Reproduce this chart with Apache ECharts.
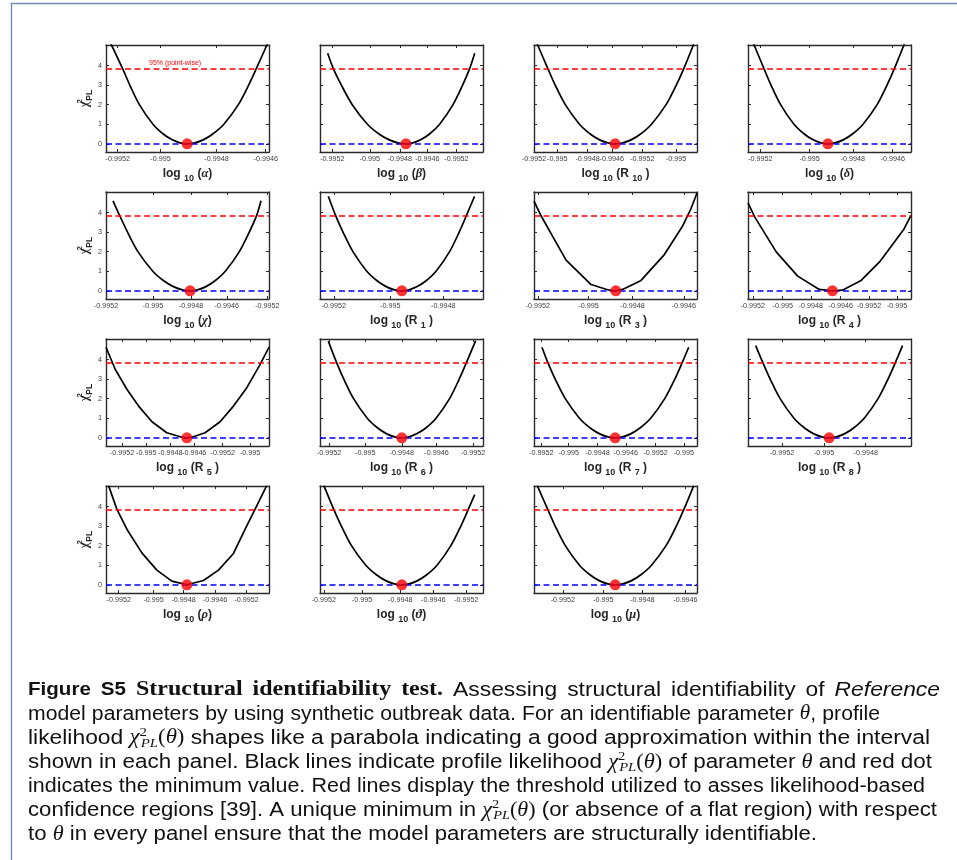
<!DOCTYPE html>
<html>
<head>
<meta charset="utf-8">
<title>Figure S5 – Structural identifiability test</title>
<script src="https://cdn.jsdelivr.net/npm/echarts@6/dist/echarts.min.js"></script>
<style>
  html, body { margin: 0; padding: 0; background: #ffffff; }
  #chart { width: 957px; height: 860px; }
</style>
</head>
<body>
<div id="chart"></div>
<script>
// ---- shared axis values ----
const THRESHOLD_95 = 3.84;          // chi-square 95% point-wise threshold (1 d.o.f.)
const Y_MIN = -0.42;
const Y_MAX = 5.05;
const yTicks = [0, 1, 2, 3, 4];

// ---- profile likelihood curves: [position along axis (0-100), chi2_PL] ----
const ticksAlpha = [7.2, 33.4, 67.8, 98.0];
const labelsAlpha = ['-0.9952', '-0.995', '-0.9948', '-0.9946'];
const profileAlpha = [[3.1, 5.1], [10.2, 3.84], [14.6, 3.0], [20.5, 2.0], [28.8, 1.0], [35.1, 0.5], [40.7, 0.2], [45.4, 0.05], [49.8, 0], [54.5, 0.05], [59.6, 0.2], [65.5, 0.5], [72.3, 1.0], [81.2, 2.0], [87.5, 3.0], [92.2, 3.84], [99.0, 5.1]];

const ticksBeta = [7.6, 30.6, 49.0, 65.9, 83.7];
const labelsBeta = ['-0.9952', '-0.995', '-0.9948', '-0.9946', '-0.9952'];
const profileBeta = [[4.7, 4.63], [8.2, 3.84], [13.1, 3.0], [19.8, 2.0], [29.1, 1.0], [36.2, 0.5], [42.5, 0.2], [47.8, 0.05], [52.7, 0], [57.0, 0.05], [61.7, 0.2], [67.2, 0.5], [73.4, 1.0], [81.6, 2.0], [87.5, 3.0], [91.8, 3.84], [94.9, 4.63]];

const ticksR10 = [0, 14.3, 32.9, 47.8, 66.5, 87.2];
const labelsR10 = ['-0.9952', '-0.995', '-0.9948', '-0.9946', '-0.9952', '-0.995'];
const profileR10 = [[2.0, 5.1], [8.5, 3.84], [13.0, 3.0], [19.2, 2.0], [27.9, 1.0], [34.5, 0.5], [40.3, 0.2], [45.3, 0.05], [49.8, 0], [54.4, 0.05], [59.5, 0.2], [65.4, 0.5], [72.1, 1.0], [81.0, 2.0], [87.3, 3.0], [91.9, 3.84], [98.0, 5.1]];

const ticksDelta = [7.6, 37.8, 64.3, 88.8];
const labelsDelta = ['-0.9952', '-0.995', '-0.9948', '-0.9946'];
const profileDelta = [[3.5, 5.1], [9.8, 3.84], [14.1, 3.0], [20.0, 2.0], [28.2, 1.0], [34.5, 0.5], [40.0, 0.2], [44.7, 0.05], [49.0, 0], [53.5, 0.05], [58.4, 0.2], [64.1, 0.5], [70.6, 1.0], [79.2, 2.0], [85.3, 3.0], [89.8, 3.84], [95.9, 5.1]];

const ticksChi = [0, 28.8, 52.2, 74.1, 99.0];
const labelsChi = ['-0.9952', '-0.995', '-0.9948', '-0.9946', '-0.9952'];
const profileChi = [[4.3, 4.6], [8.4, 3.84], [13.2, 3.0], [19.6, 2.0], [28.7, 1.0], [35.6, 0.5], [41.7, 0.2], [46.8, 0.05], [51.6, 0], [56.1, 0.05], [61.0, 0.2], [66.7, 0.5], [73.2, 1.0], [81.8, 2.0], [87.9, 3.0], [92.4, 3.84], [95.1, 4.6]];

const ticksR1 = [8.5, 43.1, 75.6];
const labelsR1 = ['-0.9952', '-0.995', '-0.9948'];
const profileR1 = [[5.1, 4.83], [9.6, 3.84], [14.1, 3.0], [20.2, 2.0], [28.7, 1.0], [35.2, 0.5], [40.9, 0.2], [45.7, 0.05], [50.2, 0], [54.6, 0.05], [59.3, 0.2], [64.9, 0.5], [71.2, 1.0], [79.5, 2.0], [85.4, 3.0], [89.8, 3.84], [94.8, 4.83]];

const ticksR3 = [2.4, 33.5, 60.4, 91.9];
const labelsR3 = ['-0.9952', '-0.995', '-0.9948', '-0.9946'];
const profileR3 = [[0, 4.58], [4.5, 3.81], [11.6, 2.76], [19.7, 1.57], [35.0, 0.32], [46.1, 0.03], [50.2, 0], [54.3, 0.07], [65.4, 0.51], [79.7, 1.82], [90.9, 3.27], [95.9, 4.12], [100, 5.0]];

const ticksR4 = [3.0, 21.3, 38.6, 56.9, 74.2, 91.5];
const labelsR4 = ['-0.9952', '-0.995', '-0.9948', '-0.9946', '-0.9952', '-0.995'];
const profileR4 = [[0, 4.49], [4.1, 3.78], [17.3, 1.99], [30.5, 0.75], [43.7, 0.07], [51.8, 0], [57.9, 0.03], [69.1, 0.51], [81.3, 1.53], [95.5, 3.13], [100, 3.86]];

const ticksR5 = [9.8, 24.7, 39.4, 54.1, 71.6, 88.4];
const labelsR5 = ['-0.9952', '-0.995', '-0.9948', '-0.9946', '-0.9952', '-0.995'];
const profileR5 = [[0, 4.63], [5.7, 3.49], [12.9, 2.47], [20.0, 1.62], [28.2, 0.82], [37.3, 0.26], [46.5, 0.03], [49.6, 0], [52.7, 0.03], [60.8, 0.26], [70.0, 0.82], [78.2, 1.62], [86.3, 2.55], [94.5, 3.74], [100, 4.63]];

const ticksR6 = [5.5, 27.8, 50.2, 71.5, 93.9];
const labelsR6 = ['-0.9952', '-0.995', '-0.9948', '-0.9946', '-0.9952'];
const profileR6 = [[5.1, 4.94], [10.2, 3.84], [14.6, 3.0], [20.6, 2.0], [29.0, 1.0], [35.4, 0.5], [41.0, 0.2], [45.8, 0.05], [50.2, 0], [54.6, 0.05], [59.3, 0.2], [64.9, 0.5], [71.2, 1.0], [79.5, 2.0], [85.4, 3.0], [89.8, 3.84], [95.5, 4.97]];

const ticksR7 = [4.5, 21.3, 39.0, 56.3, 74.6, 91.9];
const labelsR7 = ['-0.9952', '-0.995', '-0.9948', '-0.9946', '-0.9952', '-0.995'];
const profileR7 = [[4.9, 4.63], [8.5, 3.84], [13.0, 3.0], [19.2, 2.0], [27.9, 1.0], [34.5, 0.5], [40.3, 0.2], [45.3, 0.05], [49.8, 0], [54.3, 0.05], [59.3, 0.2], [65.0, 0.5], [71.6, 1.0], [80.2, 2.0], [86.4, 3.0], [90.9, 3.84], [94.9, 4.63]];

const ticksR8 = [20.9, 46.7, 72.2];
const labelsR8 = ['-0.9952', '-0.995', '-0.9948'];
const profileR8 = [[4.7, 4.71], [9.1, 3.84], [13.6, 3.0], [19.7, 2.0], [28.2, 1.0], [34.7, 0.5], [40.4, 0.2], [45.3, 0.05], [49.8, 0], [54.3, 0.05], [59.1, 0.2], [64.8, 0.5], [71.3, 1.0], [79.8, 2.0], [85.9, 3.0], [90.4, 3.84], [94.8, 4.71]];

const ticksRho = [7.8, 29.2, 47.6, 66.9, 86.3];
const labelsRho = ['-0.9952', '-0.995', '-0.9948', '-0.9946', '-0.9952'];
const profileRho = [[1.6, 5.07], [6.7, 3.85], [12.9, 2.83], [22.0, 1.63], [31.2, 0.75], [40.4, 0.19], [49.6, 0], [59.8, 0.22], [69.0, 0.75], [78.2, 1.6], [85.3, 2.83], [91.4, 3.85], [98.6, 5.07]];

const ticksTheta = [2.4, 25.8, 49.2, 69.5, 89.8];
const labelsTheta = ['-0.9952', '-0.995', '-0.9948', '-0.9946', '-0.9952'];
const profileTheta = [[2.4, 5.07], [8.5, 3.84], [13.1, 3.0], [19.3, 2.0], [28.1, 1.0], [34.8, 0.5], [40.6, 0.2], [45.6, 0.05], [50.2, 0], [54.7, 0.05], [59.6, 0.2], [65.3, 0.5], [71.8, 1.0], [80.3, 2.0], [86.4, 3.0], [90.9, 3.84], [94.9, 4.61]];

const ticksMu = [17.7, 42.5, 66.5, 92.9];
const labelsMu = ['-0.9952', '-0.995', '-0.9948', '-0.9946'];
const profileMu = [[2.0, 5.07], [8.5, 3.84], [13.0, 3.0], [19.2, 2.0], [27.9, 1.0], [34.5, 0.5], [40.3, 0.2], [45.3, 0.05], [49.8, 0], [54.4, 0.05], [59.5, 0.2], [65.4, 0.5], [72.1, 1.0], [81.0, 2.0], [87.3, 3.0], [91.9, 3.84], [98.0, 5.07]];

// ---- panel list (row-major, 4 per row) ----
const PANELS = [
  { sym: 'α', sub: '', ticks: ticksAlpha, labels: labelsAlpha, data: profileAlpha, smooth: true },
  { sym: 'β', sub: '', ticks: ticksBeta, labels: labelsBeta, data: profileBeta, smooth: true },
  { sym: 'R', sub: '10', ticks: ticksR10, labels: labelsR10, data: profileR10, smooth: true },
  { sym: 'δ', sub: '', ticks: ticksDelta, labels: labelsDelta, data: profileDelta, smooth: true },
  { sym: 'χ', sub: '', ticks: ticksChi, labels: labelsChi, data: profileChi, smooth: true },
  { sym: 'R', sub: '1', ticks: ticksR1, labels: labelsR1, data: profileR1, smooth: true },
  { sym: 'R', sub: '3', ticks: ticksR3, labels: labelsR3, data: profileR3, smooth: false },
  { sym: 'R', sub: '4', ticks: ticksR4, labels: labelsR4, data: profileR4, smooth: false },
  { sym: 'R', sub: '5', ticks: ticksR5, labels: labelsR5, data: profileR5, smooth: false },
  { sym: 'R', sub: '6', ticks: ticksR6, labels: labelsR6, data: profileR6, smooth: true },
  { sym: 'R', sub: '7', ticks: ticksR7, labels: labelsR7, data: profileR7, smooth: true },
  { sym: 'R', sub: '8', ticks: ticksR8, labels: labelsR8, data: profileR8, smooth: true },
  { sym: 'ρ', sub: '', ticks: ticksRho, labels: labelsRho, data: profileRho, smooth: false },
  { sym: 'ϑ', sub: '', ticks: ticksTheta, labels: labelsTheta, data: profileTheta, smooth: true },
  { sym: 'μ', sub: '', ticks: ticksMu, labels: labelsMu, data: profileMu, smooth: true }
];

// ---- styling ----
const SANS = 'Liberation Sans, Arial, Helvetica, sans-serif';
const SERIF = 'Liberation Serif, DejaVu Serif, serif';
const AX_COLOR = '#2b2b2b';
const TXT_COLOR = '#404040';
const RED = '#ff0000';
const BLUE = '#0000ff';
const DASH = [6, 3.5];

const NAME_RICH = {
  b:   { fontFamily: SANS, fontWeight: 'bold', fontSize: 12, color: '#262626', lineHeight: 18 },
  g:   { fontFamily: SERIF, fontStyle: 'italic', fontWeight: 'bold', fontSize: 12.5, color: '#262626', lineHeight: 18 },
  sub: { fontFamily: SANS, fontWeight: 'bold', fontSize: 9, color: '#262626', lineHeight: 9, verticalAlign: 'bottom' },
  sup: { fontFamily: SANS, fontWeight: 'bold', fontSize: 8, color: '#262626', lineHeight: 9, verticalAlign: 'top', width: 1 },
  pl:  { fontFamily: SANS, fontWeight: 'bold', fontSize: 8.5, color: '#262626', lineHeight: 9, verticalAlign: 'bottom' },
  chi: { fontFamily: SERIF, fontWeight: 'bold', fontSize: 12, color: '#262626', lineHeight: 18 }
};

function xName(p) {
  if (p.sub) return '{b|log }{sub|10}{b| (' + p.sym + ' }{sub|' + p.sub + '}{b| )}';
  return '{b|log }{sub|10}{b| (}{g|' + p.sym + '}{b|)}';
}

function nearestLabel(p) {
  return function (v) {
    let k = 0, d = Infinity;
    p.ticks.forEach(function (t, j) {
      const e = Math.abs(t - v);
      if (e < d) { d = e; k = j; }
    });
    return p.labels[k];
  };
}

const grids = [], xAxes = [], yAxes = [], series = [];

PANELS.forEach(function (p, i) {
  const col = i % 4, row = Math.floor(i / 4);
  grids.push({ left: 106 + 214 * col, top: 45 + 147 * row, width: 163, height: 107 });

  const axisLine = { onZero: false, lineStyle: { color: AX_COLOR, width: 1.4 } };
  const tickStyle = { color: AX_COLOR, width: 1 };

  // bottom x axis with labels
  xAxes.push({
    gridIndex: i, type: 'value', min: 0, max: 100, position: 'bottom',
    axisLine: axisLine,
    axisTick: { inside: true, length: 3, customValues: p.ticks, lineStyle: tickStyle },
    axisLabel: { customValues: p.ticks, formatter: nearestLabel(p), fontSize: 7.2, color: TXT_COLOR, margin: 4, fontFamily: SANS,
                 showMinLabel: true, showMaxLabel: true, hideOverlap: false },
    splitLine: { show: false },
    name: xName(p), nameLocation: 'middle', nameGap: 13,
    nameTextStyle: { rich: NAME_RICH }
  });
  // top x axis, ticks only (box)
  xAxes.push({
    gridIndex: i, type: 'value', min: 0, max: 100, position: 'top',
    axisLine: axisLine,
    axisTick: { inside: true, length: 3, customValues: p.ticks, lineStyle: tickStyle },
    axisLabel: { show: false }, splitLine: { show: false }
  });
  // left y axis
  yAxes.push({
    gridIndex: i, type: 'value', min: Y_MIN, max: Y_MAX, position: 'left',
    axisLine: axisLine,
    axisTick: { inside: true, length: 3, customValues: yTicks, lineStyle: tickStyle },
    axisLabel: { show: col === 0, customValues: yTicks, fontSize: 7.2, color: TXT_COLOR, margin: 4, fontFamily: SANS,
                 showMinLabel: true, showMaxLabel: true },
    splitLine: { show: false },
    name: col === 0 ? '{chi|χ}{sup|2}{pl|PL}' : '',
    nameLocation: 'middle', nameRotate: 90, nameGap: 3,
    nameTextStyle: { rich: NAME_RICH }
  });
  // right y axis, ticks only (box)
  yAxes.push({
    gridIndex: i, type: 'value', min: Y_MIN, max: Y_MAX, position: 'right',
    axisLine: axisLine,
    axisTick: { inside: true, length: 3, customValues: yTicks, lineStyle: tickStyle },
    axisLabel: { show: false }, splitLine: { show: false }
  });

  const redLabel = i === 0
    ? { show: true, formatter: '95% (point-wise)', position: 'insideStartTop', color: RED, fontSize: 7, fontFamily: SANS, padding: [0, 0, 0, 41], distance: 2 }
    : { show: false };

  series.push({
    type: 'line', xAxisIndex: 2 * i, yAxisIndex: 2 * i,
    data: p.data, showSymbol: false, smooth: p.smooth ? 0.3 : false,
    lineStyle: { color: '#000000', width: 1.7 }, z: 3, animation: false,
    markLine: {
      silent: true, symbol: 'none', animation: false,
      data: [
        { yAxis: THRESHOLD_95, lineStyle: { color: RED, type: DASH, width: 1.6 }, label: redLabel },
        { yAxis: 0, lineStyle: { color: BLUE, type: DASH, width: 1.6 }, label: { show: false } }
      ]
    }
  });

  // minimum of the profile
  let best = p.data[0];
  p.data.forEach(function (pt) { if (pt[1] < best[1]) best = pt; });
  series.push({
    type: 'scatter', xAxisIndex: 2 * i, yAxisIndex: 2 * i,
    data: [best], symbolSize: 11, itemStyle: { color: RED }, z: 5, animation: false, silent: true
  });
});

// ---- caption (justified lines) ----
const CAP_SIZE = 20;
const CAP_RICH = {
  b:   { fontFamily: SANS, fontWeight: 'bold', fontSize: 18, color: '#111', lineHeight: 24 },
  bs:  { fontFamily: SERIF, fontWeight: 'bold', fontSize: 21, color: '#111', lineHeight: 24 },
  i:   { fontFamily: SANS, fontStyle: 'italic', fontSize: CAP_SIZE, color: '#111', lineHeight: 24 },
  m:   { fontFamily: SERIF, fontStyle: 'italic', fontSize: CAP_SIZE, color: '#111', lineHeight: 24 },
  r:   { fontFamily: SERIF, fontSize: CAP_SIZE, color: '#111', lineHeight: 24 },
  sup: { fontFamily: SERIF, fontSize: 13, color: '#111', lineHeight: 13, verticalAlign: 'top', width: 1 },
  sub: { fontFamily: SERIF, fontStyle: 'italic', fontSize: 13, color: '#111', lineHeight: 13, verticalAlign: 'bottom' },
  lnk: { fontFamily: SANS, fontSize: CAP_SIZE, color: '#1515e0', lineHeight: 24 }
};
const CHI_PL = '{m|χ}{sup|2}{sub|PL}{r|(}{m|θ}{r|)}';
const captionLines = [
  ['{b|Figure}', '{b|S5}', '{bs|Structural}', '{bs|identifiability}', '{bs|test.}', 'Assessing', 'structural', 'identifiability', 'of', '{i|Reference}'],
  'model parameters by using synthetic outbreak data. For an identifiable parameter {m|θ}, profile'.split(' '),
  ('likelihood ' + CHI_PL + ' shapes like a parabola indicating a good approximation within the interval').split(' '),
  ('shown in each panel. Black lines indicate profile likelihood ' + CHI_PL + ' of parameter {m|θ} and red dot').split(' '),
  'indicates the minimum value. Red lines display the threshold utilized to asses likelihood-based'.split(' '),
  ('confidence regions [{lnk|39}]. A unique minimum in ' + CHI_PL + ' (or absence of a flat region) with respect').split(' '),
  'to {m|θ} in every panel ensure that the model parameters are structurally identifiable.'.split(' ')
];
// right edge of each line; the last line is set ragged (natural spacing)
const captionRight = [940, 880, 930, 932, 925, 937, 817];
const CAP_LEFT = 28;
const CAP_TOP = 690;
const CAP_LEADING = 24.1;

function capStyle(t) {
  return { text: t, rich: CAP_RICH, fontFamily: SANS, fontSize: CAP_SIZE, fill: '#111', verticalAlign: 'middle', align: 'left' };
}
function textWidth(t) {
  return new echarts.graphic.Text({ style: capStyle(t) }).getBoundingRect().width;
}
const SPACE_W = textWidth('a a') - textWidth('aa');

// glyph scale taken from the ragged last line
const lastWords = captionLines[captionLines.length - 1];
const lastNatural = lastWords.reduce(function (s, w) { return s + textWidth(w); }, 0) + SPACE_W * (lastWords.length - 1);
const GLYPH_SCALE = (captionRight[captionLines.length - 1] - CAP_LEFT) / lastNatural;

const graphics = [
  { type: 'polyline', silent: true, shape: { points: [[11.5, 860], [11.5, 3.5], [957, 3.5]] },
    style: { stroke: '#6f8db3', lineWidth: 1.4, fill: null } }
];
captionLines.forEach(function (words, k) {
  const natural = words.map(textWidth);
  const sum = natural.reduce(function (s, w) { return s + w; }, 0);
  const last = k === captionLines.length - 1;
  const avail = captionRight[k] - CAP_LEFT;
  // shrink glyphs when the line is tight, otherwise stretch the inter-word spaces
  const fitScale = (avail - SPACE_W * GLYPH_SCALE * (words.length - 1)) / sum;
  const scale = last ? GLYPH_SCALE : Math.min(fitScale, GLYPH_SCALE * 1.03);
  const gap = last ? SPACE_W * GLYPH_SCALE : (avail - sum * scale) / (words.length - 1);
  let x = CAP_LEFT;
  words.forEach(function (w, j) {
    graphics.push({
      type: 'text', silent: true, x: x, y: CAP_TOP + CAP_LEADING * k,
      scaleX: scale, style: capStyle(w)
    });
    x += natural[j] * scale + gap;
  });
});

const chart = echarts.init(document.getElementById('chart'), null, { renderer: 'canvas' });
chart.setOption({
  animation: false,
  backgroundColor: '#ffffff',
  grid: grids,
  xAxis: xAxes,
  yAxis: yAxes,
  series: series,
  graphic: graphics
});
</script>
</body>
</html>
